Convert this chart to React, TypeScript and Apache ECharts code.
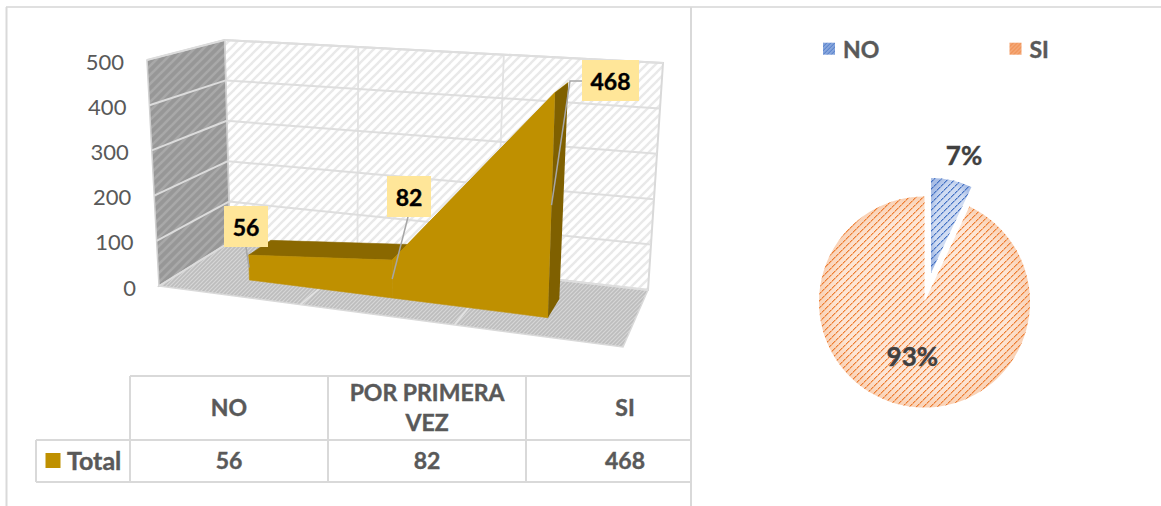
import React, { useEffect, useRef } from "react";
import * as echarts from "echarts";

const categories = ["NO", "POR PRIMERA VEZ", "SI"];
const totals = [56, 82, 468];
const yTicks = [0, 100, 200, 300, 400, 500];
const seriesName = "Total";
const pieNames = ["NO", "SI"];
const piePercents = [7, 93];

const FONT = "Lato, Carlito, 'Open Sans', sans-serif";
const GRAY_TEXT = "#595959";
const LINE = "#d9d9d9";
const GOLD = "#bf9000";
const GOLD_DARK = "#7f6000";
const GOLD_TOP = "#8a6800";

// Projection of the 3D box: corners of (u, v, w) as seen in the picture
const CORNERS = {
  f0l: [159, 286], f1l: [147, 60],
  f0r: [623, 347], f1r: [633, 92],
  b0l: [230, 242], b1l: [224.6, 40],
  b0r: [648, 290], b1r: [663, 63],
};
const PERSP = 1.14;
const DEPTH_FRONT = 0.33;
const DEPTH_BACK = 0.67;

function mix(a: number[], b: number[], t: number) {
  return [a[0] + (b[0] - a[0]) * t, a[1] + (b[1] - a[1]) * t];
}
function project(u0: number, v: number, w: number) {
  const u = u0 / (u0 + PERSP * (1 - u0));
  const c = CORNERS;
  const f0 = mix(c.f0l, c.f0r, u);
  const f1 = mix(c.f1l, c.f1r, u);
  const b0 = mix(c.b0l, c.b0r, u);
  const b1 = mix(c.b1l, c.b1r, u);
  return mix(mix(f0, b0, w), mix(f1, b1, w), v);
}
function norm(api: any, params: any, x: number, y: number) {
  const p = api.coord([x, y]);
  const cs = params.coordSys;
  return { u: (p[0] - cs.x) / cs.width, v: (cs.y + cs.height - p[1]) / cs.height };
}

function hatch(size: number, bg: string | null, fg: string, lw: number) {
  const cv = document.createElement("canvas");
  cv.width = size;
  cv.height = size;
  const c = cv.getContext("2d")!;
  if (bg) {
    c.fillStyle = bg;
    c.fillRect(0, 0, size, size);
  }
  c.strokeStyle = fg;
  c.lineWidth = lw;
  for (let k = -size; k <= size; k += size) {
    c.beginPath();
    c.moveTo(k - 1, size + 1);
    c.lineTo(k + size + 1, -1);
    c.stroke();
  }
  return { image: cv, repeat: "repeat", imageWidth: size, imageHeight: size };
}
function dotted(size: number, fg: string, soft: string) {
  const cv = document.createElement("canvas");
  cv.width = size;
  cv.height = size;
  const c = cv.getContext("2d")!;
  for (let i = 0; i < size; i++) {
    const y = size - 1 - i;
    c.fillStyle = soft;
    c.fillRect((i + 1) % size, y, 1, 1);
  }
  for (let i = 0; i < size; i++) {
    const y = size - 1 - i;
    c.fillStyle = i % 3 !== 2 ? fg : soft;
    c.fillRect(i, y, 1, 1);
  }
  return { image: cv, repeat: "repeat", imageWidth: size, imageHeight: size };
}
function radial(inner: string, outer: string) {
  return {
    type: "radial", x: 0.5, y: 0.5, r: 0.55,
    colorStops: [{ offset: 0, color: inner }, { offset: 0.75, color: inner }, { offset: 1, color: outer }],
  };
}

// Layout of the data-label boxes (pixels)
const labelBoxes = [
  { x: 224, y: 206, w: 44, h: 41, from: [[246, 247]] },
  { x: 387, y: 176, w: 44, h: 41, from: [[408, 217]] },
  { x: 582, y: 60, w: 57, h: 41, from: [[582, 81], [570, 81]] },
];

function buildOption() {
  const wallFill = hatch(9, "#ffffff", "#e9e9e9", 2.4);
  const sideFill = hatch(9, "#979797", "#a9a9a9", 2.6);
  const floorFill = hatch(4, "#bdbdbd", "#d6d6d6", 1.2);
  const noPattern = dotted(7, "#4472c4", "rgba(68,114,196,0.45)");
  const siPattern = dotted(7, "#ed7d31", "rgba(237,125,49,0.45)");

  const poly = (pts: number[][], fill: any, stroke?: string, lineWidth = 0) => ({
    type: "polygon",
    shape: { points: pts },
    style: { fill, stroke: stroke || "none", lineWidth },
  });
  const seg = (pts: number[][], color = LINE, lineWidth = 2) => ({
    type: "polyline",
    shape: { points: pts },
    style: { fill: "none", stroke: color, lineWidth },
  });

  const renderWalls = () => {
    const n = categories.length;
    const children: any[] = [
      poly([project(0, 0, 0), project(1, 0, 0), project(1, 0, 1), project(0, 0, 1)], floorFill, "#d9d9d9", 1.5),
      poly([project(0, 0, 1), project(1, 0, 1), project(1, 1, 1), project(0, 1, 1)], wallFill, LINE, 2),
      poly([project(0, 0, 0), project(0, 0, 1), project(0, 1, 1), project(0, 1, 0)], sideFill, "#d0d0d0", 1.5),
    ];
    for (let i = 1; i < n; i++) {
      const u = i / n;
      children.push(seg([project(u, 0, 0), project(u, 0, 1), project(u, 1, 1)], "#e2e2e2", 1.8));
    }
    return { type: "group", children };
  };

  const renderTick = (params: any, api: any) => {
    const { v } = norm(api, params, 0, api.value(1));
    const a = project(0, v, 0);
    const b = project(0, v, 1);
    const c = project(1, v, 1);
    return {
      type: "group",
      children: [
        seg([a, b], "#dcdcdc", 2),
        seg([b, c], "#dedede", 2),
        {
          type: "text",
          style: {
            text: String(api.value(1)), x: a[0] - 23, y: a[1] + 1,
            align: "right", verticalAlign: "middle",
            font: `400 22px ${FONT}`, fill: GRAY_TEXT,
          },
        },
      ],
    };
  };

  const renderArea = (params: any, api: any) => {
    const i = params.dataIndex;
    const a = norm(api, params, i, api.value(1));
    const children: any[] = [];
    if (i < totals.length - 1) {
      const b = norm(api, params, i + 1, totals[i + 1]);
      const steep = totals[i + 1] - totals[i] > 100;
      const fa = project(a.u, a.v, DEPTH_FRONT);
      const fb = project(b.u, b.v, DEPTH_FRONT);
      children.push(
        poly([fa, fb, project(b.u, b.v, DEPTH_BACK), project(a.u, a.v, DEPTH_BACK)], steep ? GOLD : GOLD_TOP, steep ? GOLD : GOLD_TOP, 0.6),
        poly([project(a.u, 0, DEPTH_FRONT), project(b.u, 0, DEPTH_FRONT), fb, fa], GOLD, GOLD, 0.6)
      );
    } else {
      children.push(
        poly(
          [project(a.u, 0, DEPTH_FRONT), project(a.u, a.v, DEPTH_FRONT), project(a.u, a.v, DEPTH_BACK), project(a.u, 0, DEPTH_BACK)],
          GOLD_DARK
        )
      );
    }
    return { type: "group", children };
  };

  const renderLabel = (params: any, api: any) => {
    const i = params.dataIndex;
    const val = api.value(1);
    const m = norm(api, params, i, val / 2);
    const box = labelBoxes[i];
    return {
      type: "group",
      children: [
        seg([...box.from, project(m.u, m.v, DEPTH_FRONT)], "#a6a6a6", 1.5),
        { type: "rect", shape: { x: box.x, y: box.y, width: box.w, height: box.h }, style: { fill: "#ffe699" } },
        {
          type: "text",
          style: {
            text: String(val), x: box.x + box.w / 2, y: box.y + box.h / 2,
            align: "center", verticalAlign: "middle",
            font: `700 23px ${FONT}`, fill: "#000000", stroke: "#000000", lineWidth: 0.4,
          },
        },
      ],
    };
  };

  const indexed = totals.map((t, i) => [i, t]);
  const custom = (name: string, data: any[], renderItem: any, z: number) => ({
    type: "custom", name, data, renderItem, z, silent: true, clip: false,
    encode: { x: 0, y: 1 },
  });

  const pie = (name: string, center: number[], radius: number, fill: any, label: any, labelLayout?: any) => ({
    type: "pie",
    name,
    center,
    radius,
    startAngle: 90,
    silent: true,
    percentPrecision: 0,
    avoidLabelOverlap: false,
    labelLine: { show: false },
    labelLayout,
    emphasis: { disabled: true },
    data: pieNames.map((n, i) => ({
      name: n,
      value: piePercents[i],
      itemStyle: { color: fill[i] || "transparent", borderWidth: 0 },
      label: label[i] || { show: false },
    })),
  });
  const pctLabel = {
    show: true, formatter: "{d}%", fontFamily: FONT, fontWeight: 700, fontSize: 26, color: "#404040",
    textBorderColor: "#404040", textBorderWidth: 0.4,
  };
  const SI_C = [924.5, 302];
  const NO_C = [931, 273];

  // Table and frame
  const colX = [36, 130, 328, 526, 691];
  const rowY = [376, 440, 482];
  const g: any[] = [];
  const gl = (x1: number, y1: number, x2: number, y2: number, color = LINE, w = 2) =>
    g.push({ type: "line", shape: { x1, y1, x2, y2 }, style: { stroke: color, lineWidth: w }, silent: true });
  const gt = (text: string, x: number, y: number, align = "center", size = 23) =>
    g.push({
      type: "text", x, y, silent: true,
      style: {
        text, align, verticalAlign: "middle", font: `700 ${size}px ${FONT}`, fill: GRAY_TEXT,
        stroke: GRAY_TEXT, lineWidth: 0.4, lineHeight: 30,
      },
    });
  gl(6, 7, 1161, 7, "#e0e0e0", 2);
  gl(6.5, 7, 6.5, 506);
  gl(691, 7, 691, 506);
  gl(colX[1], rowY[0], colX[4], rowY[0]);
  gl(colX[0], rowY[1], colX[4], rowY[1]);
  gl(colX[0], rowY[2], colX[4], rowY[2]);
  gl(colX[0], rowY[1], colX[0], rowY[2]);
  gl(colX[1], rowY[0], colX[1], rowY[2]);
  gl(colX[2], rowY[0], colX[2], rowY[2]);
  gl(colX[3], rowY[0], colX[3], rowY[2]);
  categories.forEach((c, i) => {
    const cx = colX[1 + i] + 99;
    const header = c.length > 12 ? c.replace(" VEZ", "\nVEZ") : c;
    gt(header, cx, 407);
    gt(String(totals[i]), cx, 459.5);
  });
  g.push({ type: "rect", shape: { x: 45.5, y: 453, width: 15, height: 15 }, style: { fill: GOLD }, silent: true });
  gt(seriesName, 67, 459.5, "left", 25);

  return {
    animation: false,
    backgroundColor: "#ffffff",
    grid: { left: 224, top: 40, width: 440, height: 250, containLabel: false },
    xAxis: { type: "category", data: categories, show: false, boundaryGap: true },
    yAxis: { type: "value", min: 0, max: 500, interval: 100, show: false },
    legend: {
      left: 818,
      top: 32,
      icon: "rect",
      itemWidth: 12,
      itemHeight: 12,
      itemGap: 130,
      selectedMode: false,
      textStyle: {
        fontFamily: FONT, fontWeight: 700, fontSize: 23, color: GRAY_TEXT, padding: [0, 0, 0, 3],
        textBorderColor: GRAY_TEXT, textBorderWidth: 0.4,
      },
      data: [
        { name: pieNames[0], itemStyle: { color: hatch(4, "#86a5dc", "#4f7bc9", 1) } },
        { name: pieNames[1], itemStyle: { color: hatch(4, "#f4a878", "#ee8641", 1) } },
      ],
    },
    series: [
      custom("walls", [[0, 0]], renderWalls, 1),
      custom("ticks", yTicks.map((t) => [0, t]), renderTick, 2),
      custom(seriesName, indexed, renderArea, 3),
      custom("labels", indexed, renderLabel, 4),
      pie("si-base", SI_C, 105.5, [null, radial("#fde6d6", "#f7c6a3")], []),
      pie("si-hatch", SI_C, 105.5, [null, siPattern], [null, { ...pctLabel, position: "inside" }]),
      pie("no-base", NO_C, 95, [radial("#d0dcf2", "#a9bee6"), null], []),
      pie(
        "no-hatch",
        NO_C,
        95,
        [noPattern, null],
        [{ ...pctLabel, position: "outside" }, null],
        { x: 964, y: 155, align: "center", verticalAlign: "middle" }
      ),
    ],
    graphic: { elements: g },
  };
}

export default function App() {
  const ref = useRef<HTMLDivElement>(null);
  useEffect(() => {
    document.body.style.margin = "0";
    const chart = echarts.init(ref.current!, undefined, { renderer: "svg" });
    chart.setOption(buildOption() as any);
    return () => chart.dispose();
  }, []);
  return <div ref={ref} style={{ width: 1161, height: 506, position: "absolute", left: 0, top: 0 }} />;
}
